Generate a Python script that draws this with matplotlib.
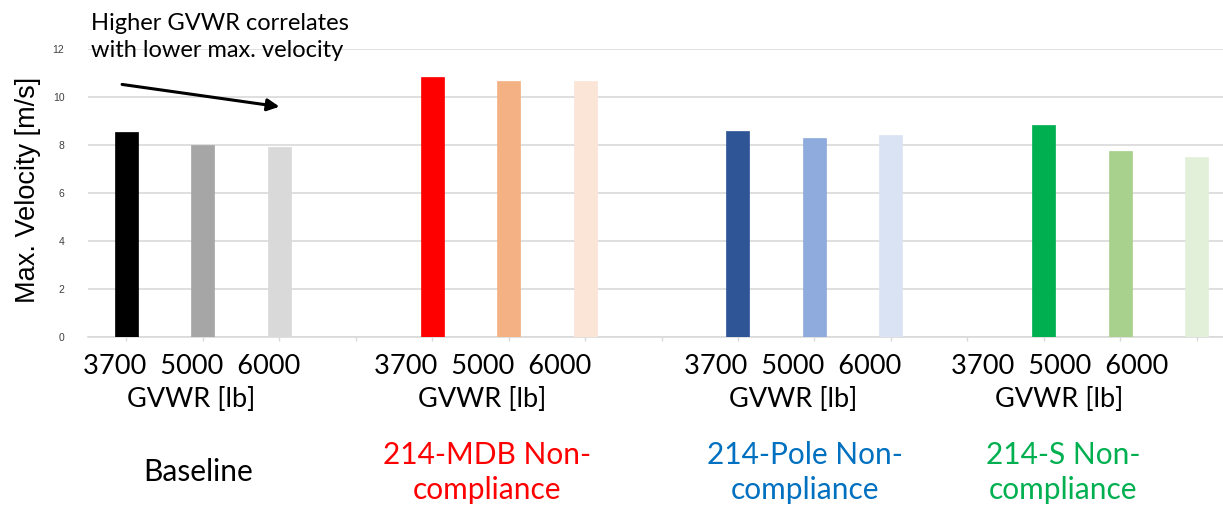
import numpy as np
import matplotlib.pyplot as plt

# data
weights = ["3700", "5000", "6000"]
groups = ["Baseline", "214-MDB Non-\ncompliance", "214-Pole Non-\ncompliance", "214-S Non-\ncompliance"]
group_colors = ["#000000", "#FF0000", "#0070C0", "#00B050"]
baseline = [8.54, 8.01, 7.90]
mdb = [10.82, 10.65, 10.65]
pole = [8.60, 8.31, 8.42]
side = [8.82, 7.74, 7.50]
bar_colors = [
    ["#000000", "#A6A6A6", "#D9D9D9"],
    ["#FF0000", "#F4B183", "#FBE5D6"],
    ["#2F5597", "#8FAADC", "#DAE3F3"],
    ["#00B050", "#A9D18E", "#E2F0D9"],
]
yticks = [0, 2, 4, 6, 8, 10, 12]
# hand-placed label centres (in category units) as in the original slide
label_x = [0.85, 4.66, 8.72, 12.2]
name_x = [0.94, 4.72, 8.88, 12.25]

series = [baseline, mdb, pole, side]

fig = plt.figure(figsize=(12.23, 5.08), dpi=100)
# axes runs a little past the right edge, as the slide was cropped
ax = fig.add_axes([88 / 1223, 1 - 337 / 508, 1147 / 1223, 288 / 508])

for g, vals in enumerate(series):
    xs = np.arange(3) + 4 * g
    ax.bar(xs, vals, width=0.3, color=bar_colors[g], edgecolor=bar_colors[g], linewidth=0.5, zorder=3)

ax.set_xlim(-0.5, 14.5)
ax.set_ylim(0, 12)
ax.set_yticks(yticks)
ax.set_yticklabels([str(t) for t in yticks], fontsize=7.5, color="#404040", family="Liberation Sans")
ax.tick_params(axis="y", length=0, pad=17)
ax.set_xticks(np.arange(15))
ax.tick_params(axis="x", length=3, color="#D9D9D9", labelbottom=False, width=1)
ax.grid(axis="y", color="#D9D9D9", linewidth=1.2, zorder=0)
for s in ["top", "right", "left"]:
    ax.spines[s].set_visible(False)
ax.spines["bottom"].set_color("#D9D9D9")
ax.spines["bottom"].set_linewidth(1.2)

ax.set_ylabel("Max. Velocity [m/s]", fontsize=19.5, family="Liberation Sans")
ax.yaxis.set_label_coords(-47 / 1147, 0.51)

trans = ax.get_xaxis_transform()
for g in range(4):
    cx = label_x[g]
    ax.text(cx, -0.06, "  ".join(weights), transform=trans, ha="center", va="top",
            fontsize=19.5, family="Lato")
    ax.text(cx, -0.175, "GVWR [lb]", transform=trans, ha="center", va="top",
            fontsize=19.5, family="Lato")
    ax.text(name_x[g], -0.47, groups[g], transform=trans, ha="center", va="center",
            fontsize=21.5, family="Lato", color=group_colors[g], linespacing=1.3)

ax.text(-0.46, 12.5, "Higher GVWR correlates\nwith lower max. velocity", ha="left", va="center",
        fontsize=17, family="Lato", linespacing=1.35, clip_on=False)
ax.annotate("", xy=(2.04, 9.58), xytext=(-0.09, 10.54),
            arrowprops=dict(arrowstyle="-|>", color="black", lw=2.2, mutation_scale=18))

fig.savefig("out.png", dpi=100)
